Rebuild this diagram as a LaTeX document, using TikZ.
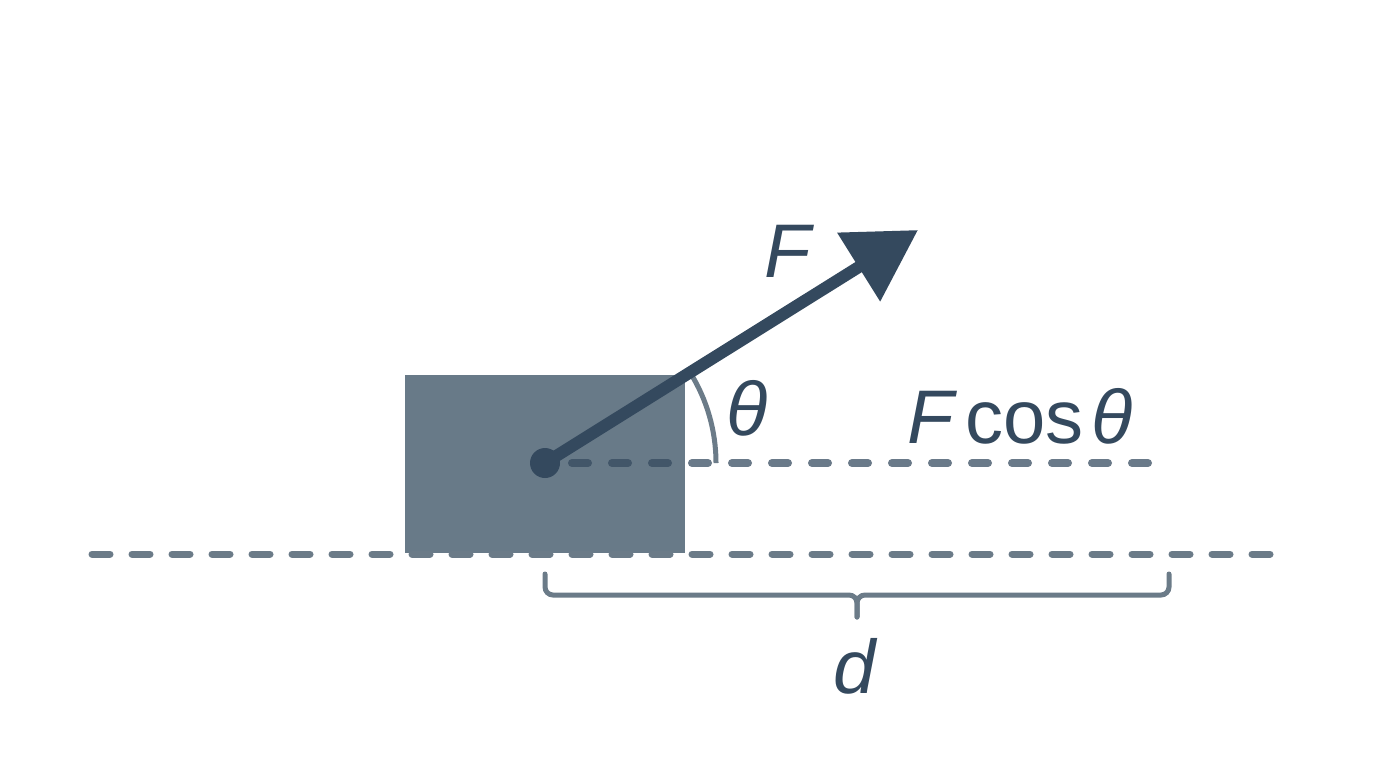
\documentclass[tikz,border=0pt]{standalone}
\usepackage{fontspec}
\setmainfont{Liberation Sans}
\usetikzlibrary{arrows.meta}
\definecolor{darkslate}{HTML}{34495E}
\definecolor{midslate}{HTML}{6B7B88}
\definecolor{blockfill}{HTML}{687A88}
\tikzset{
  lbl/.style={text=darkslate, font=\fontsize{38}{42}\selectfont, inner sep=0pt},
  fdash/.style={draw=darkslate, draw opacity=0.73, line width=4pt, line cap=round, dash pattern=on 8pt off 12pt},
  gdash/.style={draw=midslate, line width=3.5pt, line cap=round, dash pattern=on 9pt off 11pt},
  force/.style={draw=darkslate, line width=6pt, -{Triangle[length=35pt,width=39pt]}},
  bracestyle/.style={draw=midslate, line width=2.5pt, rounded corners=4pt, line cap=round},
}
\begin{document}
\begin{tikzpicture}[x=0.5pt, y=-0.5pt]
\useasboundingbox (0,0) rectangle (1376,768);
\fill[white] (0,0) rectangle (1376,768);
% block
\node[fill=blockfill, minimum width=140pt, minimum height=89pt, inner sep=0pt, anchor=north west] (block) at (405,375) {};
% ground line
\coordinate (gl) at (92,554);
\coordinate (gr) at (1278,554);
\draw[gdash] (gl) -- (gr);
% horizontal component line
\coordinate (hs) at (572,463);
\coordinate (he) at (1156,463);
\draw[fdash] (hs) -- (he);
% angle arc
\coordinate (arcstart) at (716,463);
\draw[draw=midslate, line width=2.5pt] (arcstart) arc[start angle=0, end angle=-32, radius=171];
% force arrow
\node[circle, fill=darkslate, minimum size=15pt, inner sep=0pt] (dot) at (545,463) {};
\coordinate (tip) at (918,230);
\draw[force] (dot.center) -- (tip);
% labels
\node[lbl] (Flbl) at (789,251) {\textit{F}};
\node[lbl] (thlbl) at (747,408) {\textit{θ}};
\node[lbl] (Fcos) at (1020,416) {\textit{F}\hspace{0.1em}cos\hspace{0.1em}\textit{θ}};
% brace
\coordinate (bl) at (545,574);
\coordinate (br) at (1169,574);
\coordinate (bm) at (857,595);
\coordinate (bt) at (857,617);
\draw[bracestyle] (bl) |- (bm) -- (bt);
\draw[bracestyle] (br) |- (bm) -- (bt);
\node[lbl] (dlbl) at (856,666) {\textit{d}};
\end{tikzpicture}
\end{document}
